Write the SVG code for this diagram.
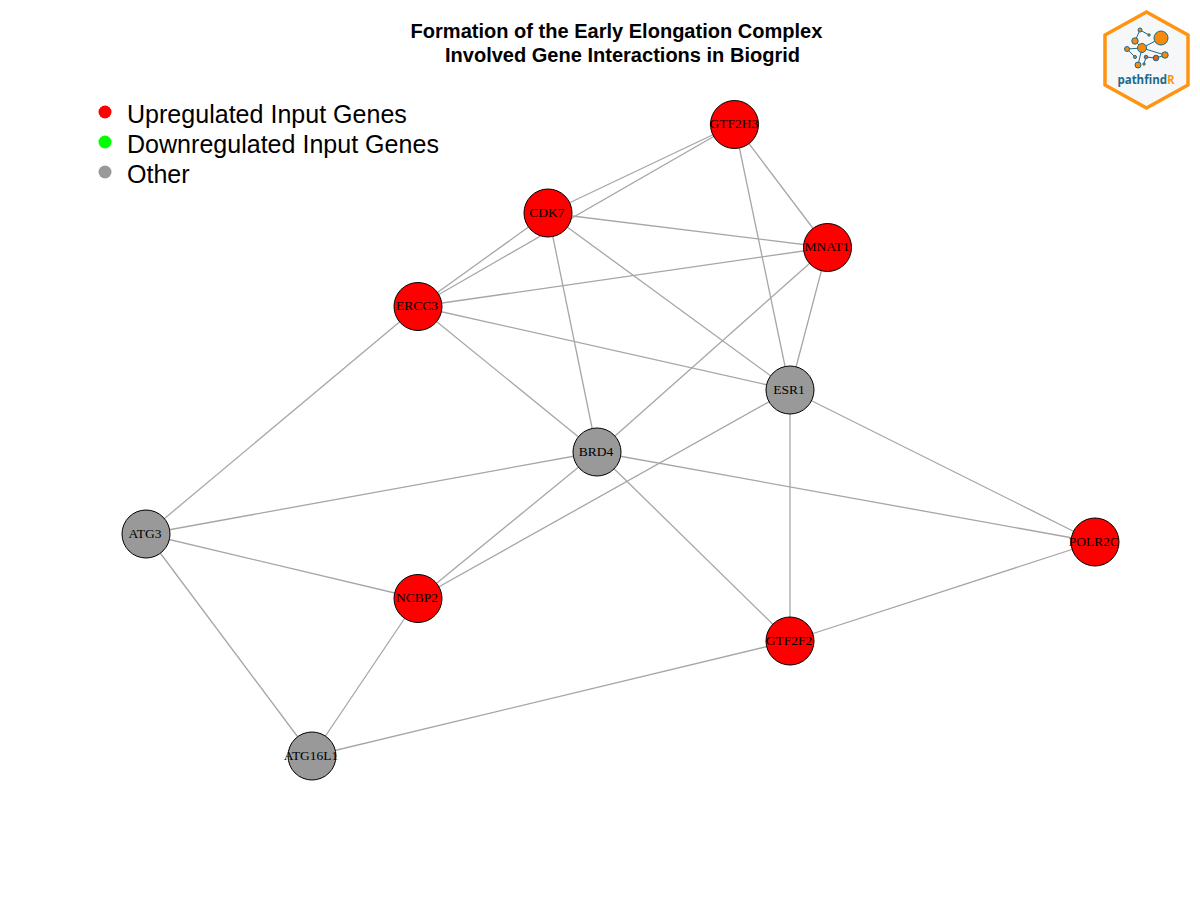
<svg xmlns="http://www.w3.org/2000/svg" width="1200" height="900" viewBox="0 0 1200 900">
<style>
.e{stroke:#a6a6a6;stroke-width:1.3;fill:none}
.n{stroke:#000;stroke-width:1}
.up{fill:#ff0000}
.ot{fill:#999999}
.nl{font-family:"Liberation Serif",serif;font-size:13.500px;text-anchor:middle;fill:#000}
.t{font-family:"Liberation Sans",sans-serif;font-size:20.050px;font-weight:bold;text-anchor:middle;fill:#000}
.l{font-family:"Liberation Sans",sans-serif;font-size:25.050px;fill:#000}
.ll{stroke:#1a6a8c;stroke-width:1;fill:none}
.ln{stroke:#1a6a8c;stroke-width:1;fill:#f58a0b}
</style>
<rect width="1200" height="900" fill="#fff"/>
<g id="title">
<text class="t" x="616.500" y="38">Formation of the Early Elongation Complex</text>
<text class="t" x="622.500" y="62">Involved Gene Interactions in Biogrid</text>
</g>
<g id="legend">
<circle cx="105" cy="112" r="6.500" fill="#ff0000"/>
<circle cx="105" cy="142" r="6.500" fill="#00ff00"/>
<circle cx="105" cy="172" r="6.500" fill="#999999"/>
<text class="l" x="127" y="123">Upregulated Input Genes</text>
<text class="l" x="127" y="153">Downregulated Input Genes</text>
<text class="l" x="127" y="183">Other</text>
</g>
<g id="connectors">
<line class="e" x1="734.500" y1="124.500" x2="548" y2="213"/>
<line class="e" x1="734.500" y1="124.500" x2="418" y2="306.500"/>
<line class="e" x1="734.500" y1="124.500" x2="827.500" y2="247.500"/>
<line class="e" x1="734.500" y1="124.500" x2="790" y2="390"/>
<line class="e" x1="548" y1="213" x2="827.500" y2="247.500"/>
<line class="e" x1="548" y1="213" x2="418" y2="306.500"/>
<line class="e" x1="548" y1="213" x2="597" y2="452"/>
<line class="e" x1="548" y1="213" x2="790" y2="390"/>
<line class="e" x1="827.500" y1="247.500" x2="418" y2="306.500"/>
<line class="e" x1="827.500" y1="247.500" x2="597" y2="452"/>
<line class="e" x1="827.500" y1="247.500" x2="790" y2="390"/>
<line class="e" x1="418" y1="306.500" x2="790" y2="390"/>
<line class="e" x1="418" y1="306.500" x2="597" y2="452"/>
<line class="e" x1="418" y1="306.500" x2="146" y2="534"/>
<line class="e" x1="790" y1="390" x2="418" y2="598.500"/>
<line class="e" x1="790" y1="390" x2="790" y2="641"/>
<line class="e" x1="790" y1="390" x2="1095" y2="542"/>
<line class="e" x1="597" y1="452" x2="146" y2="534"/>
<line class="e" x1="597" y1="452" x2="418" y2="598.500"/>
<line class="e" x1="597" y1="452" x2="790" y2="641"/>
<line class="e" x1="597" y1="452" x2="1095" y2="542"/>
<line class="e" x1="146" y1="534" x2="418" y2="598.500"/>
<line class="e" x1="146" y1="534" x2="312" y2="756"/>
<line class="e" x1="418" y1="598.500" x2="312" y2="756"/>
<line class="e" x1="312" y1="756" x2="790" y2="641"/>
<line class="e" x1="790" y1="641" x2="1095" y2="542"/>
</g>
<g id="GTF2H3"><circle class="n up" cx="734.500" cy="124.500" r="24"/><text class="nl" x="734" y="128">GTF2H3</text></g>
<g id="CDK7"><circle class="n up" cx="548" cy="213" r="24"/><text class="nl" x="547" y="216.500">CDK7</text></g>
<g id="MNAT1"><circle class="n up" cx="827.500" cy="247.500" r="24"/><text class="nl" x="827" y="251">MNAT1</text></g>
<g id="ERCC3"><circle class="n up" cx="418" cy="306.500" r="24"/><text class="nl" x="417" y="310">ERCC3</text></g>
<g id="ESR1"><circle class="n ot" cx="790" cy="390" r="24"/><text class="nl" x="789" y="393.500">ESR1</text></g>
<g id="BRD4"><circle class="n ot" cx="597" cy="452" r="24"/><text class="nl" x="596" y="455.500">BRD4</text></g>
<g id="ATG3"><circle class="n ot" cx="146" cy="534" r="24"/><text class="nl" x="145" y="537.500">ATG3</text></g>
<g id="POLR2C"><circle class="n up" cx="1095" cy="542" r="24"/><text class="nl" x="1094" y="545.500">POLR2C</text></g>
<g id="NCBP2"><circle class="n up" cx="418" cy="598.500" r="24"/><text class="nl" x="417" y="602">NCBP2</text></g>
<g id="GTF2F2"><circle class="n up" cx="790" cy="641" r="24"/><text class="nl" x="789" y="644.500">GTF2F2</text></g>
<g id="ATG16L1"><circle class="n ot" cx="312" cy="756" r="24"/><text class="nl" x="311" y="759.500">ATG16L1</text></g>
<g id="logo">
<polygon points="1146.500,12 1188,35 1188,85 1146.500,108 1105,85 1105,35" fill="#f5f7f9" stroke="#ff9410" stroke-width="3.500"/>
<path class="ll" d="M1142 48L1161 38M1142 48L1135 41M1135 41L1140 30L1149 35M1142 48L1127 49M1127 49L1135 57M1142 48L1165 55M1142 48L1138 65M1146 57L1156 58L1165 55M1146 57L1144 64"/>
<circle class="ln" cx="1161" cy="38" r="7"/>
<circle class="ln" cx="1142" cy="48" r="4.500"/>
<circle class="ln" cx="1135" cy="41" r="3.200"/>
<circle class="ln" cx="1140" cy="30" r="2"/>
<circle class="ln" cx="1149" cy="35" r="1.200"/>
<circle class="ln" cx="1127" cy="49" r="2.500"/>
<circle class="ln" cx="1135" cy="57" r="1.500"/>
<circle class="ln" cx="1165" cy="55" r="3.200"/>
<circle class="ln" cx="1156" cy="58" r="2.800" style="fill:#f05a1a"/>
<circle class="ln" cx="1146" cy="57" r="1.800" style="fill:#f05a1a"/>
<circle class="ln" cx="1138" cy="65" r="3"/>
<circle class="ln" cx="1144" cy="64" r="1.200"/>
<text x="1146" y="84" font-family="'Open Sans',sans-serif" font-size="11.500" font-weight="700" text-anchor="middle" fill="#1a6a8c">pathfind<tspan fill="#ff9410">R</tspan></text>
</g>
</svg>
